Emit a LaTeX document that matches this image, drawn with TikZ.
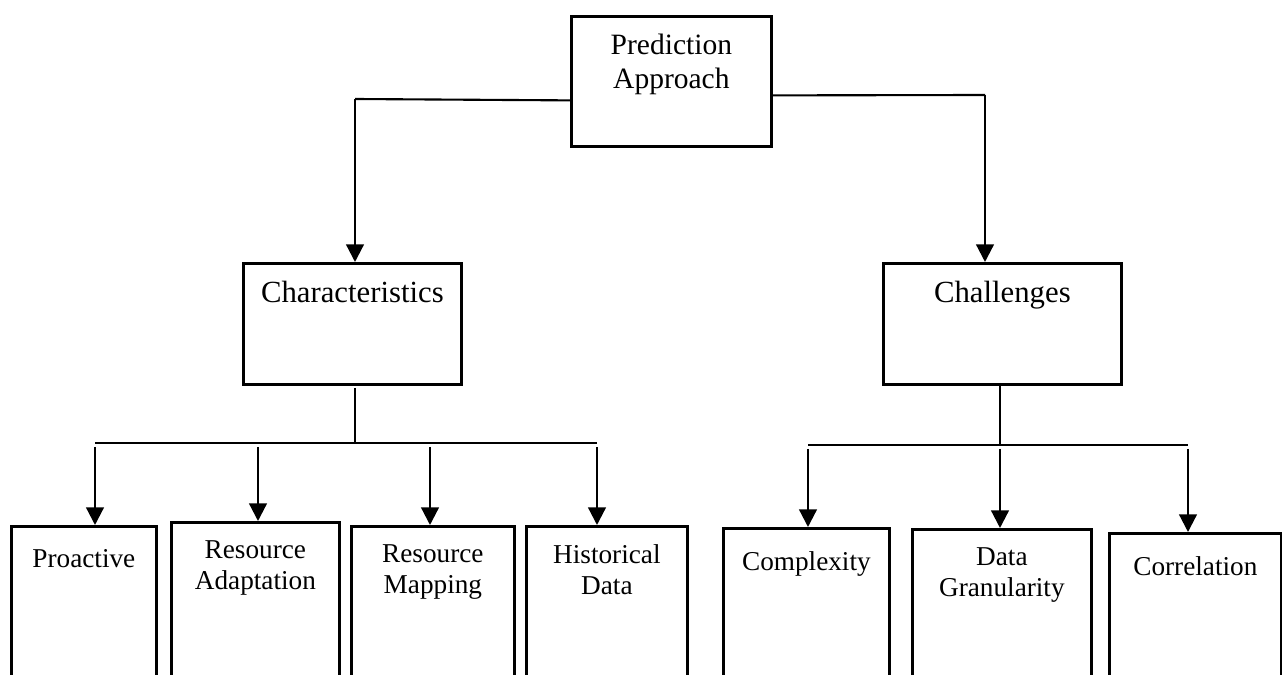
\documentclass[tikz,border=0pt]{standalone}
\usepackage{fontspec}
\setmainfont{Liberation Serif}
\usetikzlibrary{arrows.meta}

\begin{document}
\begin{tikzpicture}[
        x=0.02cm, y=-0.02cm,
        box/.style={draw, line width=1.6pt, anchor=north west, inner sep=0pt},
        lab/.style={anchor=north, align=center, inner sep=0pt, yshift=-0.38cm},
        big/.style={font=\fontsize{17.5}{19}\selectfont},
        small/.style={font=\fontsize{15.5}{18}\selectfont},
        arr/.style={line width=1.3pt, -{Triangle[width=10pt,length=10pt]}},
        wire/.style={line width=1.2pt}
      ]
      \useasboundingbox (0,0) rectangle (1282,675);
      \clip (0,0) rectangle (1282,675);
      % top level
      \node (pred) [box, minimum width=4cm, minimum height=2.6cm,
        label={[lab,font=\fontsize{16.8}{19}\selectfont]north:Prediction\\Approach}] at (570,15) {};
      \node (char) [box, minimum width=4.36cm, minimum height=2.42cm,
        label={[lab,big]north:Characteristics}] at (242,262) {};
      \node (chal) [box, minimum width=4.76cm, minimum height=2.42cm,
        label={[lab,big]north:Challenges}] at (882,262) {};
      % leaves
      \node (pro) [box, minimum width=2.9cm, minimum height=3.4cm,
        label={[lab,small,yshift=-0.1cm]north:Proactive}] at (10,525) {};
      \node (radapt) [box, minimum width=3.36cm, minimum height=3.4cm,
        label={[lab,small]north:Resource\\Adaptation}] at (170,521) {};
      \node (rmap) [box, minimum width=3.26cm, minimum height=3.4cm,
        label={[lab,small]north:Resource\\Mapping}] at (350,525) {};
      \node (hist) [box, minimum width=3.22cm, minimum height=3.4cm,
        label={[lab,small]north:Historical\\Data}] at (525,525) {};
      \node (cplx) [box, minimum width=3.32cm, minimum height=3.4cm,
        label={[lab,small,yshift=-0.1cm]north:Complexity}] at (722,527) {};
      \node (gran) [box, minimum width=3.58cm, minimum height=3.4cm,
        label={[lab,small]north:Data\\Granularity}] at (911,528) {};
      \node (corr) [box, minimum width=3.44cm, minimum height=3.4cm,
        label={[lab,small,yshift=-0.1cm]north:Correlation}] at (1108,532) {};

      \coordinate (lj) at (355,99);
      \coordinate (rj) at (985,95);
      \coordinate (lbus) at (355,443);
      \coordinate (rbus) at (1000,445);

      \draw[wire] ([yshift=-0.38cm]pred.west) -- (lj);
      \draw[arr] (lj) -- (lj |- char.north);
      \draw[wire] ([yshift=-0.28cm]pred.east) -- (rj);
      \draw[arr] (rj) -- (rj |- chal.north);

      \draw[wire] (355,388) -- (lbus);
      \draw[wire] (95,443) -- (597,443);
      \foreach \c/\x in {pro/95, radapt/258, rmap/430, hist/597}
        \draw[arr] (\x,447) -- (\x,0 |- \c.north);

      \draw[wire] (1000,383) -- (rbus);
      \draw[wire] (808,445) -- (1188,445);
      \foreach \c/\x in {cplx/808, gran/1000, corr/1188}
        \draw[arr] (\x,449) -- (\x,0 |- \c.north);
    \end{tikzpicture}
\end{document}
